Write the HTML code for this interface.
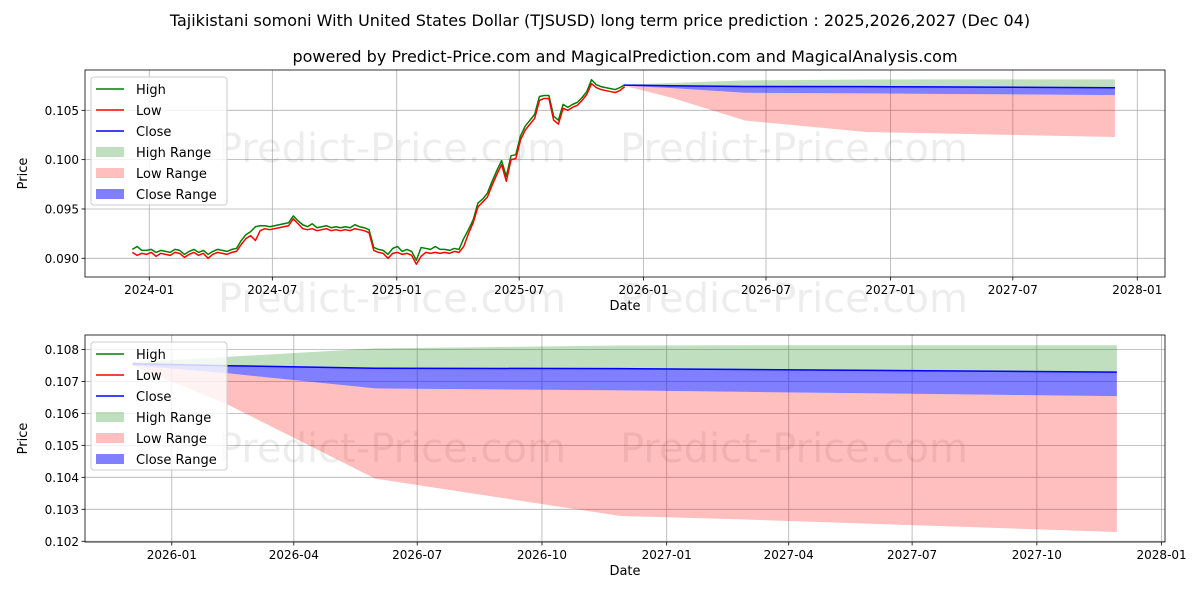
<!DOCTYPE html>
<html><head><meta charset="utf-8"><style>
html,body{margin:0;padding:0;background:#fff;width:1200px;height:600px;overflow:hidden;}
svg{display:block;font-family:"DejaVu Sans","Liberation Sans",sans-serif;}
</style></head><body>
<svg id="c" width="1200" height="600" viewBox="0 0 1200 600">
<text x="600" y="26" text-anchor="middle" font-size="16">Tajikistani somoni With United States Dollar (TJSUSD) long term price prediction : 2025,2026,2027 (Dec 04)</text>
<text x="625" y="62" text-anchor="middle" font-size="16">powered by Predict-Price.com and MagicalPrediction.com and MagicalAnalysis.com</text>
</svg>
<script>
// history: day offsets from 2024-01-01, weekly from day -25
const histStart = -25;
const histLow = [0.0906,0.0903,0.0905,0.0904,0.0906,0.0902,0.0905,0.0904,0.0903,0.0906,0.0905,0.0901,0.0904,0.0906,0.0903,0.0905,0.0900,0.0904,0.0906,0.0905,0.0904,0.0906,0.0907,0.0914,0.0920,0.0923,0.0918,0.0928,0.0930,0.0929,0.0930,0.0931,0.0932,0.0933,0.0940,0.0935,0.0930,0.0929,0.0930,0.0928,0.0929,0.0930,0.0928,0.0929,0.0928,0.0929,0.0928,0.0930,0.0929,0.0928,0.0926,0.0908,0.0906,0.0905,0.0900,0.0905,0.0906,0.0904,0.0905,0.0903,0.0894,0.0902,0.0906,0.0905,0.0906,0.0905,0.0906,0.0905,0.0907,0.0906,0.0912,0.0925,0.0936,0.0952,0.0957,0.0962,0.0974,0.0985,0.0995,0.0978,0.1000,0.1001,0.1020,0.1030,0.1036,0.1042,0.1060,0.1062,0.1062,0.1040,0.1036,0.1052,0.1050,0.1053,0.1055,0.1060,0.1066,0.1077,0.1073,0.1071,0.1070,0.1069,0.1068,0.1070,0.1074];
const histHigh = [0.0909,0.0912,0.0908,0.0908,0.0909,0.0906,0.0908,0.0907,0.0906,0.0909,0.0908,0.0904,0.0907,0.0909,0.0906,0.0908,0.0904,0.0907,0.0909,0.0908,0.0907,0.0909,0.0910,0.0918,0.0924,0.0927,0.0932,0.0933,0.0933,0.0932,0.0933,0.0934,0.0935,0.0936,0.0943,0.0938,0.0934,0.0932,0.0935,0.0931,0.0932,0.0933,0.0931,0.0932,0.0931,0.0932,0.0931,0.0934,0.0932,0.0931,0.0929,0.0911,0.0909,0.0908,0.0904,0.0910,0.0912,0.0907,0.0909,0.0907,0.0898,0.0911,0.0910,0.0909,0.0912,0.0909,0.0909,0.0908,0.0910,0.0909,0.0920,0.0929,0.0939,0.0956,0.0960,0.0966,0.0978,0.0989,0.0999,0.0983,0.1004,0.1005,0.1024,0.1034,0.1040,0.1046,0.1064,0.1065,0.1065,0.1044,0.1040,0.1056,0.1053,0.1056,0.1058,0.1063,0.1069,0.1081,0.1076,0.1074,0.1073,0.1072,0.1071,0.1073,0.1076];
// prediction
const predDays = [702,773,881,1062,1155,1428];
const highUpper = [0.10760,0.10777,0.10803,0.10812,0.10813,0.10813];
const closeLine = [0.10755,0.10749,0.10741,0.10740,0.10737,0.10729];
const closeLower = [0.10750,0.10725,0.10678,0.10672,0.10667,0.10654];
const lowLower = [0.10750,0.10626,0.10396,0.10279,0.10268,0.10229];
const topYTicks = [0.090,0.095,0.100,0.105];
const topXTicks = ["2024-01","2024-07","2025-01","2025-07","2026-01","2026-07","2027-01","2027-07","2028-01"];
const topXTickDays = [0,182,366,547,731,912,1096,1277,1461];
const botYTicks = [0.102,0.103,0.104,0.105,0.106,0.107,0.108];
const botXTicks = ["2026-01","2026-04","2026-07","2026-10","2027-01","2027-04","2027-07","2027-10","2028-01"];
const botXTickDays = [731,821,912,1004,1096,1186,1277,1369,1461];

const NS="http://www.w3.org/2000/svg";
const svg=document.getElementById('c');
function mk(tag,attrs,parent){const e=document.createElementNS(NS,tag);for(const k in attrs)e.setAttribute(k,attrs[k]);(parent||svg).appendChild(e);return e;}

function panel(cfg){
  const {L,R,T,B,d0,d1,y0,y1,name}=cfg;
  const g=mk('g',{});
  
  
  const xs=d=>L+(d-d0)/(d1-d0)*(R-L);
  const ys=v=>B-(v-y0)/(y1-y0)*(B-T);
  const clip='clip-'+name;
  const cp=mk('clipPath',{id:clip},g);mk('rect',{x:L,y:T,width:R-L,height:B-T},cp);
  cfg.xDays.forEach((d,i)=>{const x=xs(d);
    const gl=mk('line',{x1:x,x2:x,y1:T,y2:B,stroke:'#b0b0b0','stroke-width':0.8},g);
    
    mk('line',{x1:x,x2:x,y1:B,y2:B+3.5,stroke:'#000','stroke-width':0.8},g);
    const t=mk('text',{x:x,y:B+17,'text-anchor':'middle','font-size':12},g);t.textContent=cfg.xLabels[i];
    });
  cfg.yTicks.forEach(v=>{const y=ys(v);
    const gl=mk('line',{x1:L,x2:R,y1:y,y2:y,stroke:'#b0b0b0','stroke-width':0.8},g);
    
    mk('line',{x1:L-3.5,x2:L,y1:y,y2:y,stroke:'#000','stroke-width':0.8},g);
    const t=mk('text',{x:L-6,y:y+4.5,'text-anchor':'end','font-size':12},g);t.textContent=v.toFixed(3);
    });
  cfg.wm.forEach(([x,y])=>{const t=mk('text',{x:x,y:y,'font-size':40,fill:'#000','fill-opacity':0.07},g);t.textContent='Predict-Price.com';
    });
  const pg=mk('g',{'clip-path':'url(#'+clip+')'},g);
  function band(up,lo,fill,op,nm){
    let p=predDays.map((d,i)=>xs(d)+','+ys(up[i]));
    p=p.concat(predDays.map((d,i)=>xs(d)+','+ys(lo[i])).reverse());
    const e=mk('polygon',{points:p.join(' '),fill:fill,'fill-opacity':op},pg);
    }
  band(highUpper,closeLine,'#008000',0.25,'high-range-band');
  band(closeLower,lowLower,'#ff0000',0.25,'low-range-band');
  band(closeLine,closeLower,'#0000ff',0.5,'close-range-band');
  function line(days,vals,col,nm){
    const e=mk('polyline',{points:days.map((d,i)=>xs(d)+','+ys(vals[i])).join(' '),fill:'none',stroke:col,'stroke-width':1.5,'stroke-linejoin':'round'},pg);
    }
  if(cfg.showHist){
    const hd=histLow.map((_,i)=>histStart+7*i);
    line(hd,histHigh,'#008000','high-line');
    line(hd,histLow,'#ff0000','low-line');
  }
  line(predDays,closeLine,'#0000ff','close-line');
  mk('rect',{x:L,y:T,width:R-L,height:B-T,fill:'none',stroke:'#000','stroke-width':0.8},g);
  const xl=mk('text',{x:(L+R)/2,y:B+33,'text-anchor':'middle','font-size':13},g);xl.textContent='Date';
  
  const yl=mk('text',{x:0,y:0,'text-anchor':'middle','font-size':13,transform:`translate(${cfg.yTitleX},${(T+B)/2}) rotate(-90)`},g);yl.textContent='Price';
  
  const lg=mk('g',{},g);
  
  mk('rect',{x:L+6,y:T+7,width:136,height:128,rx:3,fill:'#fff','fill-opacity':0.8,stroke:'#ccc'},lg);
  const items=[['High','line','#008000',1],['Low','line','#ff0000',1],['Close','line','#0000ff',1],['High Range','patch','#008000',0.25],['Low Range','patch','#ff0000',0.25],['Close Range','patch','#0000ff',0.5]];
  items.forEach((it,i)=>{const y=T+19+i*21;
    if(it[1]==='line')mk('line',{x1:L+11,x2:L+39,y1:y,y2:y,stroke:it[2],'stroke-width':1.5},lg);
    else mk('rect',{x:L+11,y:y-5,width:28,height:10,fill:it[2],'fill-opacity':it[3]},lg);
    const t=mk('text',{x:L+51,y:y+5,'font-size':13},lg);t.textContent=it[0];
    });
}
panel({name:'top-panel',showHist:true,L:85,R:1165,T:70,B:277,d0:-95,d1:1502,y0:0.088105,y1:0.109084,
  xDays:topXTickDays,xLabels:topXTicks,yTicks:topYTicks,yTitleX:27,wm:[[218,162],[620,162],[218,312],[620,312]]});
panel({name:'bottom-panel',showHist:false,L:85,R:1165,T:335,B:542,d0:667,d1:1463.5,y0:0.101978,y1:0.10845,
  xDays:botXTickDays,xLabels:botXTicks,yTicks:botYTicks,yTitleX:27,wm:[[218,462],[620,462]]});
</script>
</body></html>
